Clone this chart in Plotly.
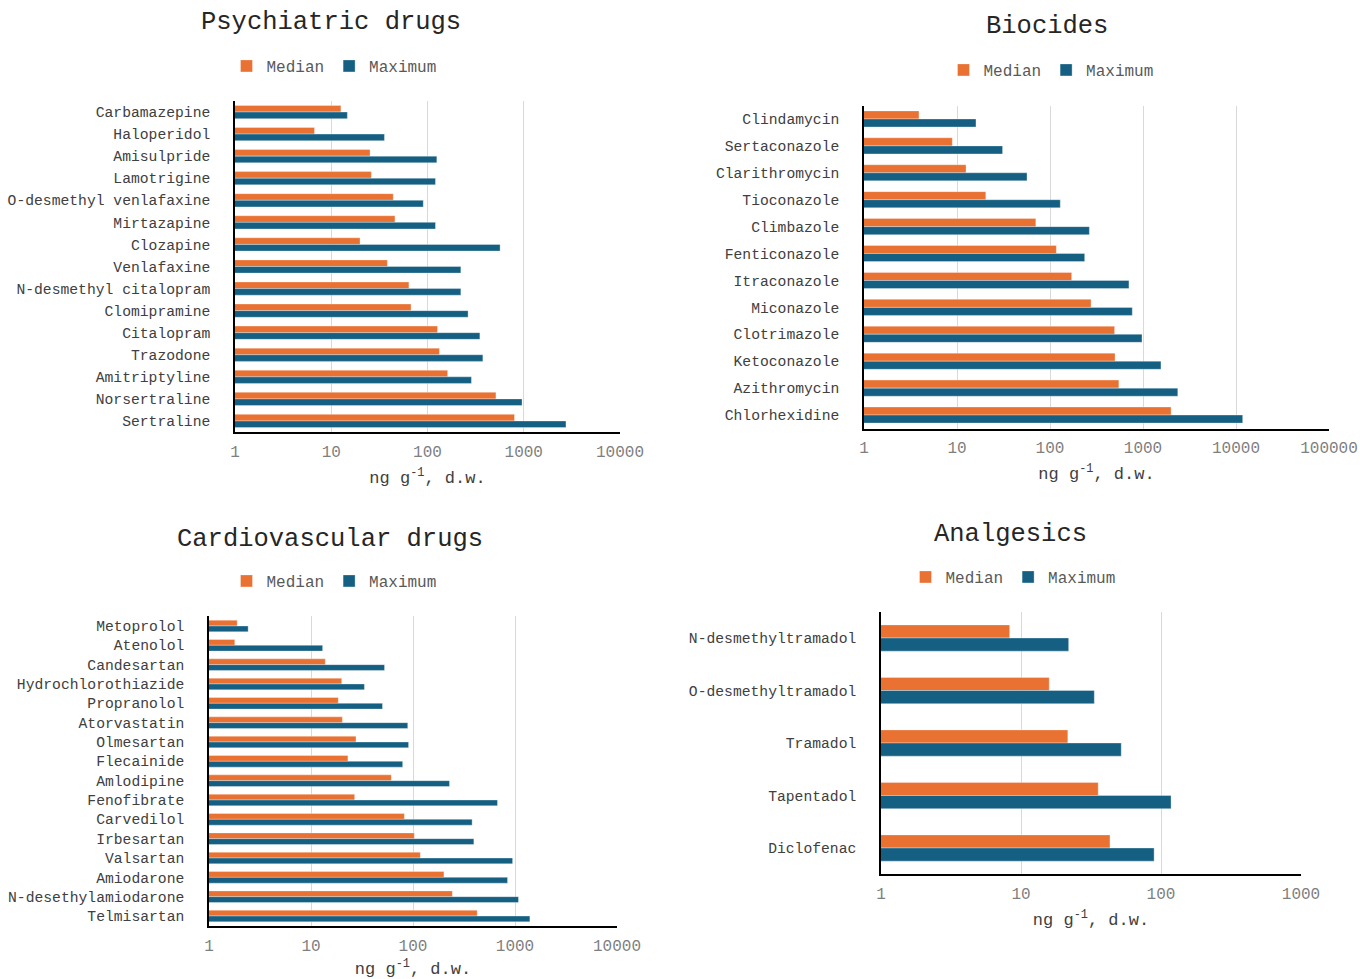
import plotly.graph_objects as go

# ---------------- data ----------------
psy_cats = ["Carbamazepine", "Haloperidol", "Amisulpride", "Lamotrigine", "O-desmethyl venlafaxine",
            "Mirtazapine", "Clozapine", "Venlafaxine", "N-desmethyl citalopram", "Clomipramine",
            "Citalopram", "Trazodone", "Amitriptyline", "Norsertraline", "Sertraline"]
psy_median = [12.6, 6.7, 25.3, 26.1, 44.1, 45.9, 19.9, 38.3, 64.1, 67.4, 127, 133, 162, 514, 801]
psy_max = [14.7, 35.7, 125, 121, 90.4, 121, 568, 222, 222, 264, 350, 376, 286, 960, 2746]

bio_cats = ["Clindamycin", "Sertaconazole", "Clarithromycin", "Tioconazole", "Climbazole",
            "Fenticonazole", "Itraconazole", "Miconazole", "Clotrimazole", "Ketoconazole",
            "Azithromycin", "Chlorhexidine"]
bio_median = [3.9, 8.9, 12.5, 20.4, 70.4, 117, 171, 276, 495, 500, 550, 2004]
bio_max = [16.0, 30.9, 56.6, 129, 265, 236, 706, 767, 975, 1560, 2366, 11800]

car_cats = ["Metoprolol", "Atenolol", "Candesartan", "Hydrochlorothiazide", "Propranolol",
            "Atorvastatin", "Olmesartan", "Flecainide", "Amlodipine", "Fenofibrate", "Carvedilol",
            "Irbesartan", "Valsartan", "Amiodarone", "N-desethylamiodarone", "Telmisartan"]
car_median = [1.89, 1.79, 13.8, 20.0, 18.5, 20.3, 27.6, 23.0, 61.3, 26.8, 82.3, 103, 118, 201, 243, 426]
car_max = [2.42, 13.0, 52.6, 33.4, 50.2, 88.8, 90.5, 79.2, 228, 673, 380, 395, 947, 845, 1082, 1399]

ana_cats = ["N-desmethyltramadol", "O-desmethyltramadol", "Tramadol", "Tapentadol", "Diclofenac"]
ana_median = [8.3, 15.9, 21.6, 35.6, 43.2]
ana_max = [21.9, 33.4, 52.0, 118, 89.3]

panel_titles = ["Psychiatric drugs", "Biocides", "Cardiovascular drugs", "Analgesics"]
series_names = ["Median", "Maximum"]
tick_vals_4 = [1, 10, 100, 1000, 10000]
tick_vals_5 = [1, 10, 100, 1000, 10000, 100000]
tick_vals_3 = [1, 10, 100, 1000]
axis_title = "ng g<sup>-1</sup>, d.w."

# ---------------- style ----------------
FONT = "Liberation Mono"
C_MED = "#E97132"
C_MAX = "#156082"
W, H = 1360, 979

def px_x(v):
    return v / W

def px_y(v):
    return 1 - v / H

panels = [
    dict(cats=psy_cats, med=psy_median, mx=psy_max, ticks=tick_vals_4,
         xd=(235, 620), yd=(101, 432), bw=0.3, leg=(334, 66), tit=(331, 23)),
    dict(cats=bio_cats, med=bio_median, mx=bio_max, ticks=tick_vals_5,
         xd=(864, 1329), yd=(105.5, 428.5), bw=0.3, leg=(1051, 70), tit=(1047, 27)),
    dict(cats=car_cats, med=car_median, mx=car_max, ticks=tick_vals_4,
         xd=(209, 617), yd=(616.3, 925.7), bw=0.3, leg=(334, 581), tit=(330, 539)),
    dict(cats=ana_cats, med=ana_median, mx=ana_max, ticks=tick_vals_3,
         xd=(881, 1301), yd=(611.75, 874.25), bw=0.25, leg=(1013, 577), tit=(1010, 534)),
]

fig = go.Figure()
layout = dict(
    width=W, height=H, autosize=False,
    margin=dict(l=0, r=0, t=0, b=0, autoexpand=False),
    paper_bgcolor="white", plot_bgcolor="white",
    barmode="overlay",
    font=dict(family=FONT, color="#404040", size=15),
    annotations=[],
)

for i, p in enumerate(panels):
    sfx = "" if i == 0 else str(i + 1)
    xa, ya = "x" + sfx, "y" + sfx
    leg = "legend" + sfx
    bw = p["bw"]
    for name, vals, col, off in [(series_names[0], p["med"], C_MED, -bw),
                                 (series_names[1], p["mx"], C_MAX, 0.0)]:
        fig.add_trace(go.Bar(
            y=p["cats"], x=vals, orientation="h", name=name,
            marker=dict(color=col, line=dict(color="rgba(255,255,255,0.55)", width=0.6)),
            width=bw, offset=off, xaxis=xa, yaxis=ya, legend=leg,
            hovertemplate="%{y}: %{x}<extra>" + name + "</extra>",
        ))
    n = len(p["cats"])
    layout["xaxis" + sfx] = dict(
        type="log", domain=[px_x(p["xd"][0]), px_x(p["xd"][1])], anchor=ya,
        range=[0, len(p["ticks"]) - 1], automargin=False,
        tickvals=p["ticks"], ticktext=[str(t) for t in p["ticks"]],
        tickfont=dict(family=FONT, size=16, color="#7F7F7F"),
        showgrid=True, gridcolor="#D9D9D9", gridwidth=1,
        showline=True, linecolor="#000000", linewidth=1.5,
        zeroline=False, ticks="", ticklabelstandoff=4,
        title=dict(text=axis_title, font=dict(family=FONT, size=17, color="#404040"), standoff=10),
    )
    layout["yaxis" + sfx] = dict(
        type="category", domain=[px_y(p["yd"][1]), px_y(p["yd"][0])], anchor=xa,
        range=[n - 0.5, -0.5], categoryorder="array", categoryarray=p["cats"],
        automargin=False,
        tickfont=dict(family=FONT, size=14.7, color="#404040"),
        showgrid=False, showline=True, linecolor="#000000", linewidth=1.5,
        ticks="", ticklabelstandoff=20, zeroline=False,
    )
    layout[leg] = dict(
        orientation="h", x=px_x(p["leg"][0]), y=px_y(p["leg"][1]),
        xanchor="center", yanchor="middle", itemwidth=30,
        font=dict(family=FONT, size=16, color="#595959"),
        bgcolor="rgba(0,0,0,0)", traceorder="normal",
    )
    layout["annotations"].append(dict(
        text=panel_titles[i], x=px_x(p["tit"][0]), y=px_y(p["tit"][1]),
        xref="paper", yref="paper", xanchor="center", yanchor="middle",
        showarrow=False, font=dict(family=FONT, size=25.5, color="#262626"),
    ))

fig.update_layout(**layout)
fig.write_html("out.html", config={"displayModeBar": False},
               post_script="document.body.style.margin='0';document.body.style.padding='0';")
